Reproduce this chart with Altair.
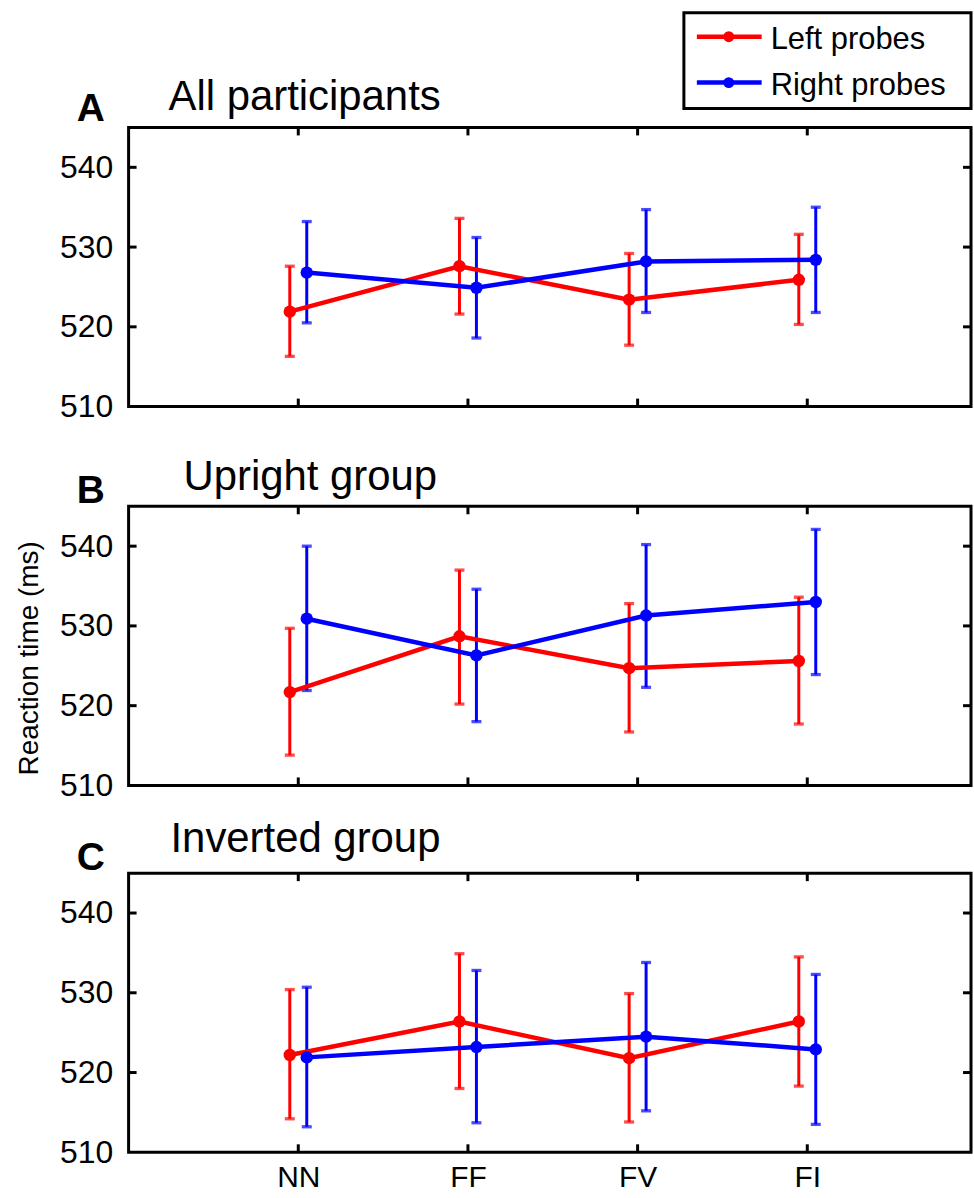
import altair as alt
import pandas as pd

# Conditions on the x axis and the two probe series
conditions = ["NN", "FF", "FV", "FI"]
cond_pos = [1, 2, 3, 4]
probes = ["Left probes", "Right probes"]
probe_colors = ["#ff0000", "#0000ff"]
probe_shift = [-0.05, 0.05]

# A: all participants (mean, lower and upper error bar ends, ms)
all_left_mean = [521.9, 527.6, 523.4, 525.9]
all_left_lo = [516.3, 521.6, 517.7, 520.3]
all_left_hi = [527.6, 533.6, 529.2, 531.6]
all_right_mean = [526.8, 524.9, 528.2, 528.4]
all_right_lo = [520.5, 518.6, 521.8, 521.8]
all_right_hi = [533.2, 531.2, 534.7, 535.0]

# B: upright group
up_left_mean = [521.7, 528.7, 524.7, 525.6]
up_left_lo = [513.8, 520.2, 516.7, 517.7]
up_left_hi = [529.7, 537.0, 532.8, 533.6]
up_right_mean = [530.9, 526.3, 531.3, 533.0]
up_right_lo = [521.9, 518.0, 522.3, 523.9]
up_right_hi = [540.0, 534.6, 540.2, 542.1]

# C: inverted group
inv_left_mean = [522.2, 526.4, 521.8, 526.4]
inv_left_lo = [514.2, 518.0, 513.8, 518.3]
inv_left_hi = [530.4, 534.9, 529.9, 534.5]
inv_right_mean = [521.9, 523.2, 524.5, 522.9]
inv_right_lo = [513.2, 513.7, 515.2, 513.5]
inv_right_hi = [530.7, 532.8, 533.8, 532.3]

y_labels = [510, 520, 530, 540]
y_inner_ticks = [520, 530, 540]
y_domain = [510, 545]
x_domain = [0, 4.965]

FONT = "Liberation Sans"
W, H = 845, 280
TICK = 8

label_js = "[" + ",".join("'%s'" % c for c in [""] + conditions) + "][datum.value]"


def legend_layers():
    """Boxed key in the top right corner: a line with a dot, then the name."""
    box = alt.Chart(pd.DataFrame({"k": [0]})).mark_rect(
        fill="white", stroke="black", strokeWidth=3
    ).encode(x=alt.value(557), x2=alt.value(W), y=alt.value(-115), y2=alt.value(-19))
    out = [box]
    for name, col, ly in zip(probes, probe_colors, [-91, -45]):
        one = pd.DataFrame({"name": [name]})
        out.append(alt.Chart(one).mark_rule(color=col, strokeWidth=4.5).encode(
            x=alt.value(570), x2=alt.value(635), y=alt.value(ly)))
        out.append(alt.Chart(one).mark_circle(color=col, size=120, opacity=1).encode(
            x=alt.value(602), y=alt.value(ly)))
        out.append(alt.Chart(one).mark_text(
            font=FONT, fontSize=31, color="black", align="left",
            baseline="alphabetic").encode(
            text="name:N", x=alt.value(644), y=alt.value(ly + 12)))
    return out


def panel(letter, title, title_dx, title_dy, letter_dy, series,
          x_labels, y_title, legend):
    rows = []
    for probe, shift, (m, lo, hi) in zip(probes, probe_shift, series):
        for c, p, mv, lv, hv in zip(conditions, cond_pos, m, lo, hi):
            rows.append({"probe": probe, "cond": c, "x": p + shift,
                         "mean": mv, "lo": lv, "hi": hv})
    df = pd.DataFrame(rows)

    xs = alt.Scale(domain=x_domain, nice=False, zero=False)
    ys = alt.Scale(domain=y_domain, nice=False, zero=False)

    if x_labels:
        x_axis = alt.Axis(values=cond_pos, labelExpr=label_js, title=None,
                          ticks=False, domain=False, grid=False,
                          labelFontSize=30, labelPadding=10, labelFont=FONT,
                          labelColor="black")
    else:
        x_axis = None

    y_kw = dict(values=y_labels, ticks=False, domain=False, grid=False,
                labelFontSize=32, labelPadding=16, labelFont=FONT,
                labelColor="black")
    if y_title:
        y_axis = alt.Axis(title="Reaction time (ms)", titleFontSize=28,
                          titleFont=FONT, titleFontWeight="normal",
                          titleColor="black", titleAngle=270,
                          titleAlign="center", titleBaseline="alphabetic",
                          titleX=-91, titleY=152, **y_kw)
    else:
        y_axis = alt.Axis(title=None, **y_kw)

    X = alt.X("x:Q", scale=xs, axis=x_axis)
    sc = alt.Scale(domain=probes, range=probe_colors)
    col = alt.Color("probe:N", scale=sc, legend=None)

    base = alt.Chart(df).encode(x=X, color=col)

    lines = base.mark_line(strokeWidth=4.5).encode(
        y=alt.Y("mean:Q", scale=ys, axis=y_axis),
        order=alt.Order("x:Q"),
    )
    bars = base.mark_rule(strokeWidth=3).encode(
        y=alt.Y("lo:Q", scale=ys, axis=y_axis), y2="hi:Q",
    )
    caps_lo = base.mark_tick(orient="horizontal", size=10, thickness=3.3).encode(
        y=alt.Y("lo:Q", scale=ys, axis=y_axis),
    )
    caps_hi = base.mark_tick(orient="horizontal", size=10, thickness=3.3).encode(
        y=alt.Y("hi:Q", scale=ys, axis=y_axis),
    )
    dots = base.mark_circle(size=155, opacity=1).encode(
        y=alt.Y("mean:Q", scale=ys, axis=y_axis),
    )

    # inward tick marks on all four sides
    yt = pd.DataFrame({"v": y_inner_ticks})
    xt = pd.DataFrame({"p": cond_pos})
    tick_style = dict(color="black", strokeWidth=3)
    lt = alt.Chart(yt).mark_rule(**tick_style).encode(
        y=alt.Y("v:Q", scale=ys, axis=y_axis), x=alt.value(0), x2=alt.value(TICK))
    rt = alt.Chart(yt).mark_rule(**tick_style).encode(
        y=alt.Y("v:Q", scale=ys, axis=y_axis), x=alt.value(W - TICK), x2=alt.value(W))
    tt = alt.Chart(xt).mark_rule(**tick_style).encode(
        x=alt.X("p:Q", scale=xs, axis=x_axis), y=alt.value(0), y2=alt.value(TICK))
    bt = alt.Chart(xt).mark_rule(**tick_style).encode(
        x=alt.X("p:Q", scale=xs, axis=x_axis), y=alt.value(H - TICK), y2=alt.value(H))

    heads = pd.DataFrame({"letter": [letter], "title": [title]})
    tag = alt.Chart(heads).mark_text(
        font=FONT, fontSize=39, fontWeight="bold", align="center",
        baseline="alphabetic", color="black",
    ).encode(text="letter:N", x=alt.value(-38), y=alt.value(letter_dy))
    head = alt.Chart(heads).mark_text(
        font=FONT, fontSize=42, align="left", baseline="alphabetic",
        color="black",
    ).encode(text="title:N", x=alt.value(title_dx), y=alt.value(title_dy))

    layers = [lt, rt, tt, bt, bars, caps_lo, caps_hi, lines, dots, tag, head]
    if legend:
        layers += legend_layers()
    return alt.layer(*layers).properties(width=W, height=H)


pa = panel("A", "All participants", 40, -18, -6,
           [(all_left_mean, all_left_lo, all_left_hi),
            (all_right_mean, all_right_lo, all_right_hi)],
           x_labels=False, y_title=False, legend=True)
pb = panel("B", "Upright group", 55, -16, -3,
           [(up_left_mean, up_left_lo, up_left_hi),
            (up_right_mean, up_right_lo, up_right_hi)],
           x_labels=False, y_title=True, legend=False)
pc = panel("C", "Inverted group", 42, -21, -3,
           [(inv_left_mean, inv_left_lo, inv_left_hi),
            (inv_right_mean, inv_right_lo, inv_right_hi)],
           x_labels=True, y_title=False, legend=False)

lower = alt.vconcat(pb, pc, spacing=88, bounds="flush")

chart = alt.vconcat(pa, lower, spacing=100, bounds="flush").properties(
    padding={"left": 14, "top": 8, "right": 0, "bottom": 0},
    background="white",
).configure_view(
    stroke="black", strokeWidth=3
)

chart.save("out.html", embed_options={"renderer": "svg", "actions": False})
